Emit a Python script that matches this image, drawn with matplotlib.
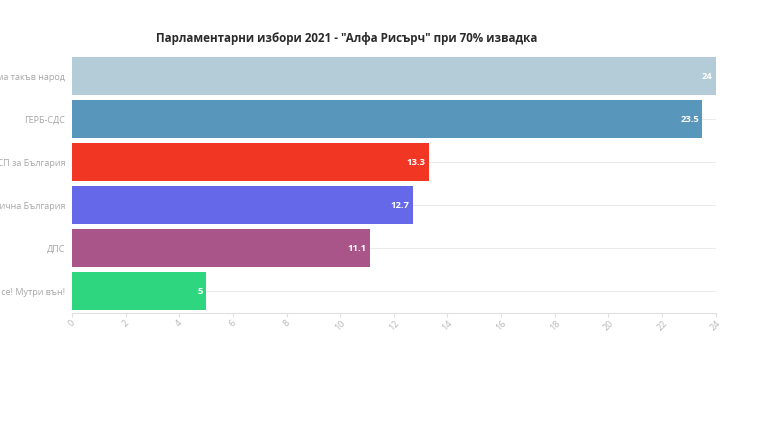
import matplotlib.pyplot as plt

parties = ['Има такъв народ', 'ГЕРБ-СДС', 'БСП за България',
           'Демократична България', 'ДПС', 'Изправи се! Мутри вън!']
values = [24, 23.5, 13.3, 12.7, 11.1, 5]
colors = ['#b4cbd8', '#5996bb', '#f23624', '#6568e8', '#aa5589', '#2fd680']
ticks = list(range(0, 25, 2))

plt.rcParams['font.family'] = ['Open Sans', 'DejaVu Sans']

fig = plt.figure(figsize=(7.68, 4.32), dpi=100)
# labels run off the left edge, as in the original screenshot
ax = fig.add_axes([0.09375, 0.276, 0.838, 0.597])

ypos = list(range(len(parties)))
ax.barh(ypos, values, height=0.88, color=colors, zorder=2)

for y, v in zip(ypos, values):
    ax.text(v - 0.12, y, f'{v:g}', ha='right', va='center',
            color='white', fontsize=6.8, fontweight='bold', zorder=3)

ax.set_ylim(len(parties) - 0.5, -0.5)
ax.set_xlim(0, 24)
ax.set_yticks(ypos)
ax.set_yticklabels(parties)
ax.set_xticks(ticks)
ax.set_xticklabels([str(t) for t in ticks], rotation=45)

ax.grid(axis='y', color='#e6e6e6', linewidth=0.6, zorder=0)
ax.grid(axis='x', visible=False)
for s in ['top', 'right', 'left']:
    ax.spines[s].set_visible(False)
ax.spines['bottom'].set_color('#e0e0e0')
ax.spines['bottom'].set_linewidth(0.8)

ax.tick_params(axis='y', length=0, pad=5, labelsize=6.5, labelcolor='#a6a6a6')
ax.tick_params(axis='x', length=3, color='#e0e0e0', pad=1, labelsize=6.5,
               labelcolor='#b5b5b5')

fig.text(0.452, 0.912, 'Парламентарни избори 2021 - "Алфа Рисърч" при 70% извадка',
         ha='center', va='center', fontsize=8.4, fontweight='bold', color='#2b2b2b')

fig.savefig('out.png', dpi=100, facecolor='white')
